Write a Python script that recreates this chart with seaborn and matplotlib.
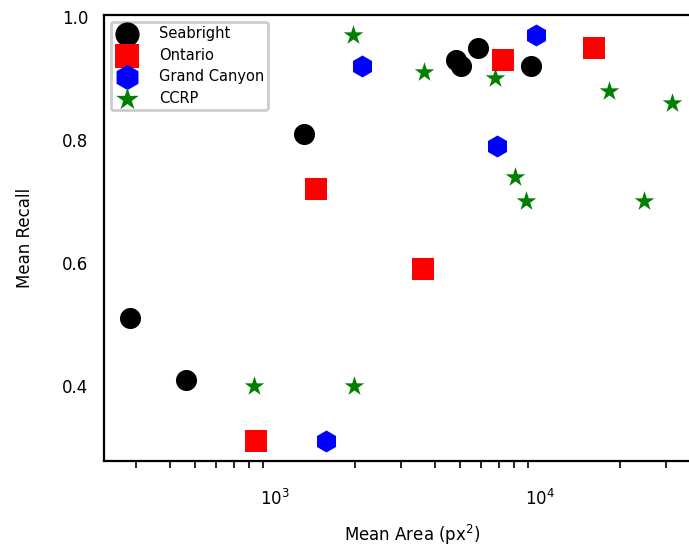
import numpy as np
import pandas as pd
import matplotlib
matplotlib.use("Agg")
import matplotlib.pyplot as plt
import seaborn as sns

datasets = ["Seabright", "Ontario", "Grand Canyon", "CCRP"]

seabright_area = [284, 461, 1286, 4820, 5035, 5835, 9250]
seabright_recall = [0.51, 0.41, 0.81, 0.93, 0.92, 0.95, 0.92]

ontario_area = [848, 1429, 3613, 7280, 16000]
ontario_recall = [0.31, 0.72, 0.59, 0.93, 0.95]

grand_canyon_area = [1557, 2124, 6875, 9685]
grand_canyon_recall = [0.31, 0.92, 0.79, 0.97]

ccrp_area = [833, 1986, 1977, 3648, 6775, 8050, 8850, 18200, 24660, 31560]
ccrp_recall = [0.40, 0.40, 0.97, 0.91, 0.90, 0.74, 0.70, 0.88, 0.70, 0.86]

colors = {"Seabright": "black", "Ontario": "red", "Grand Canyon": "blue", "CCRP": "green"}
markers = {"Seabright": "o", "Ontario": "s", "Grand Canyon": "h", "CCRP": "*"}
sizes = {"Seabright": 230, "Ontario": 230, "Grand Canyon": 250, "CCRP": 220}

frames = []
for name, a, r in [("Seabright", seabright_area, seabright_recall),
                   ("Ontario", ontario_area, ontario_recall),
                   ("Grand Canyon", grand_canyon_area, grand_canyon_recall),
                   ("CCRP", ccrp_area, ccrp_recall)]:
    frames.append(pd.DataFrame({"area": a, "recall": r, "dataset": name}))
df = pd.concat(frames, ignore_index=True)

sns.set_style("white")
plt.rcParams["font.family"] = ["DejaVu Sans"]
plt.rcParams["text.color"] = "black"
plt.rcParams["axes.labelcolor"] = "black"
plt.rcParams["xtick.color"] = "black"
plt.rcParams["ytick.color"] = "black"

W, H = 689, 548
fig = plt.figure(figsize=(W / 100, H / 100), dpi=100)
left_px, right_px, top_px, bot_px = 104, 720, 15, 461
ax = fig.add_axes([left_px / W, 1 - bot_px / H, (right_px - left_px) / W, (bot_px - top_px) / H])

for name in datasets:
    sub = df[df["dataset"] == name]
    sns.scatterplot(data=sub, x="area", y="recall", ax=ax, color=colors[name],
                    marker=markers[name], s=sizes[name], linewidth=0, label=name)

ax.set_xscale("log")
px_per_dec = 265.0
x0 = 10 ** (3 - (275 - left_px) / px_per_dec)
x1 = 10 ** (3 + (right_px - 275) / px_per_dec)
ax.set_xlim(x0, x1)
ax.set_ylim(0.278, 1.003)
ax.set_yticks([0.4, 0.6, 0.8, 1.0])
ax.set_yticklabels(["0.4", "0.6", "0.8", "1.0"])

for sp in ax.spines.values():
    sp.set_linewidth(1.6)
    sp.set_color("black")
ax.tick_params(axis="both", which="major", length=8, width=1.5, labelsize=12, direction="out", color="black")
ax.tick_params(axis="x", which="minor", length=5, width=1.2, direction="out", color="black", bottom=True)
ax.tick_params(axis="x", which="major", pad=12)

ax.set_xlabel("Mean Area (px$^2$)", fontsize=12, labelpad=10)
ax.set_ylabel("Mean Recall", fontsize=12, labelpad=20)

leg = ax.legend(loc="upper left", fontsize=10.5, frameon=True, fancybox=True,
                borderpad=0.3, labelspacing=0.45, handletextpad=1.4,
                borderaxespad=0.45, markerscale=1.15, handlelength=1.6)
leg.get_frame().set_edgecolor("#cccccc")
leg.get_frame().set_linewidth(2)
leg.get_frame().set_alpha(1)

fig.savefig("out.png", dpi=100)
